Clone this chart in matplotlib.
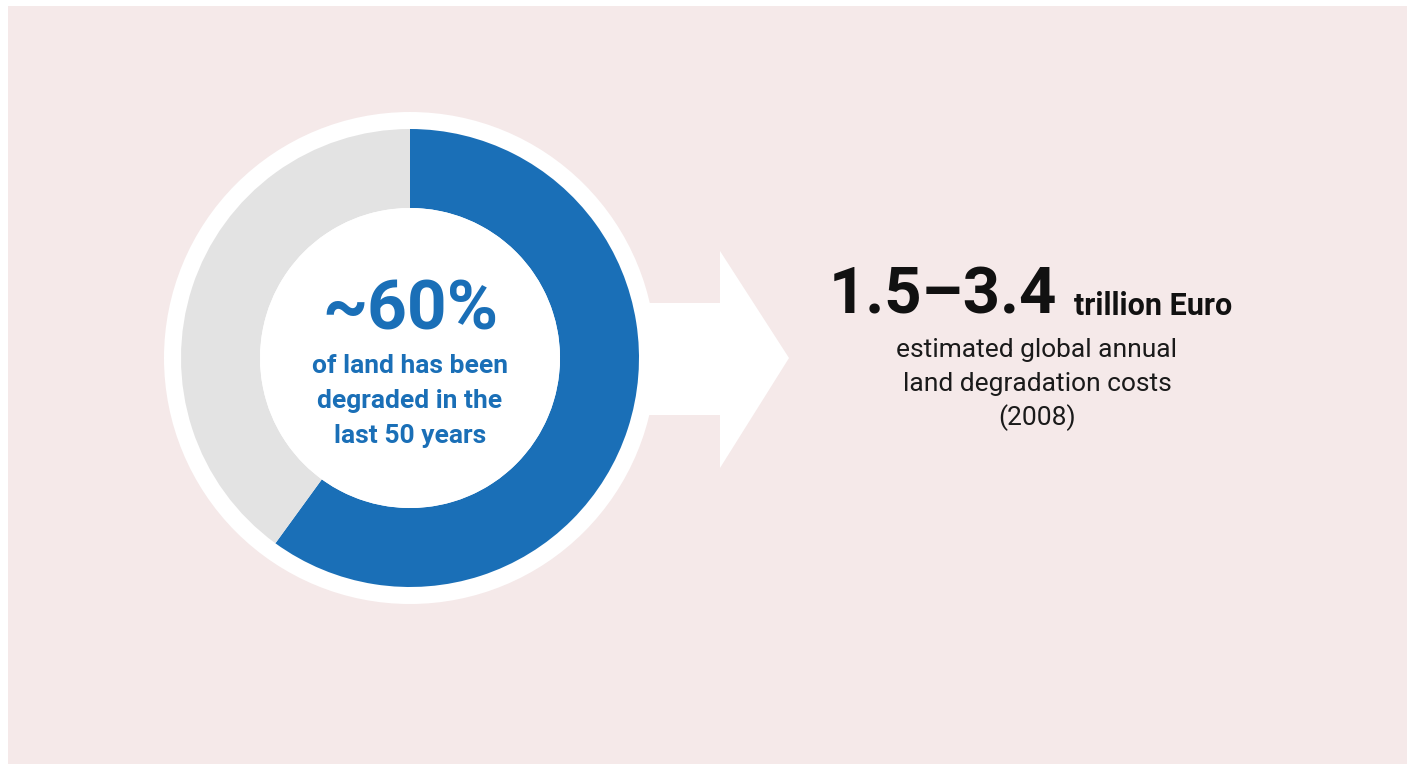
import matplotlib
matplotlib.use("Agg")
import matplotlib.pyplot as plt
from matplotlib.patches import Circle, Polygon, Rectangle

# share of degraded land vs the rest
shares = [60, 40]
share_colors = ["#1a6fb7", "#e3e3e3"]
headline = "~60%"
headline_sub = ["of land has been", "degraded in the", "last 50 years"]

cost_range = "1.5–3.4"
cost_unit = "trillion Euro"
cost_note = ["estimated global annual", "land degradation costs", "(2008)"]

W, H, DPI = 1413, 764, 100
BG = "#f5e9e9"
BLUE = "#1a6fb7"

fig = plt.figure(figsize=(W / DPI, H / DPI), dpi=DPI)
fig.patch.set_facecolor("white")
ax = fig.add_axes([0, 0, 1, 1])
ax.set_xlim(0, W)
ax.set_ylim(0, H)
ax.axis("off")


def py(y):
    # pixel rows counted from the top
    return H - y


ax.add_patch(Rectangle((8, py(764)), 1399, 758, facecolor=BG, edgecolor="none", zorder=0))

# white arrow pointing right, tucked behind the ring
arrow = [(560, py(303)), (720, py(303)), (720, py(251)), (789, py(358)),
         (720, py(468)), (720, py(415)), (560, py(415))]
ax.add_patch(Polygon(arrow, closed=True, facecolor="white", edgecolor="none", zorder=1))

cx, cy = 410, py(358)
ax.add_patch(Circle((cx, cy), 246, facecolor="white", edgecolor="none", zorder=2))
wedges, _ = ax.pie(shares, colors=share_colors, startangle=90, counterclock=False,
                   center=(cx, cy), radius=229, frame=True,
                   wedgeprops=dict(width=79, edgecolor="none"))
for w in wedges:
    w.set_zorder(3)
ax.add_patch(Circle((cx, cy), 150, facecolor="white", edgecolor="none", zorder=3))
ax.set_xlim(0, W)
ax.set_ylim(0, H)
ax.set_aspect("equal")
ax.axis("off")

font = "Roboto"
ax.text(cx, py(311), headline, ha="center", va="center", fontsize=50,
        fontweight="bold", color=BLUE, family=font, zorder=5)
for i, line in enumerate(headline_sub):
    ax.text(cx, py(366 + 35 * i), line, ha="center", va="center", fontsize=19,
            fontweight="bold", color=BLUE, family=font, zorder=5)

ax.text(1057, py(296), cost_range, ha="right", va="center", fontsize=47,
        fontweight="bold", color="#111111", family=font, zorder=5)
ax.text(1074, py(306), cost_unit, ha="left", va="center", fontsize=22,
        fontweight="bold", color="#111111", family=font, zorder=5)
for i, line in enumerate(cost_note):
    ax.text(1037, py(350 + 34 * i), line, ha="center", va="center", fontsize=19,
            color="#1a1a1a", family=font, zorder=5)

fig.savefig("out.png", dpi=DPI, facecolor="white")
